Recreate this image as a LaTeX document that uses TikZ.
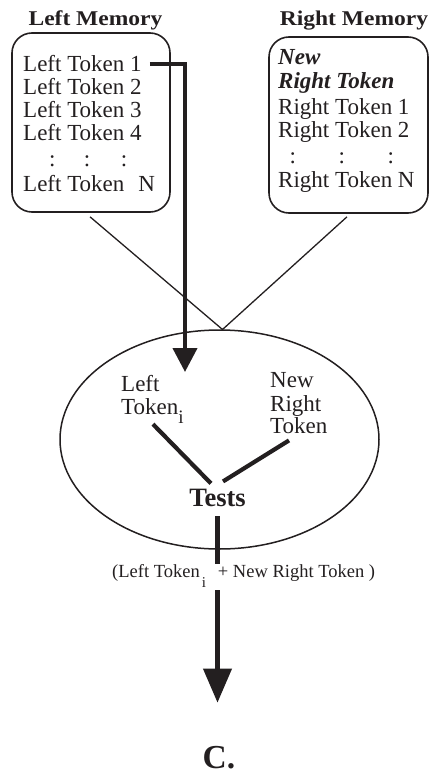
\documentclass[tikz,border=0pt]{standalone}
\usepackage{fontspec}
\setmainfont{Liberation Serif}
\newfontfamily\titlefont{Liberation Serif}[FakeStretch=1.12]
\usetikzlibrary{arrows.meta,shapes.geometric,calc}
\definecolor{ink}{HTML}{231F20}

\begin{document}
\begin{tikzpicture}[x=1pt,y=-1pt,color=ink,
  every node/.style={inner sep=0pt},
  txt/.style={anchor=base west, font=\fontsize{23}{24}\selectfont},
  bitxt/.style={txt, font=\fontsize{23}{24}\selectfont\bfseries\itshape},
  title/.style={anchor=base, font=\fontsize{21}{24}\selectfont\titlefont\bfseries},
  membox/.style={draw, line width=1.6pt, rounded corners=20pt},
  thinline/.style={line width=1.3pt},
  thickline/.style={line width=4.2pt},
]
\useasboundingbox (0,0) rectangle (434,775);

% memory boxes
\node[title] (ltitle) at (95.5,25.5) {Left Memory};
\node[title] (rtitle) at (354,25.5) {Right Memory};
\node[membox, minimum width=158pt, minimum height=179pt] (lbox) at (91,122.5) {};
\node[membox, minimum width=159pt, minimum height=176pt] (rbox) at (348.5,125) {};

% left memory contents
\node[txt] (L1) at (23,72)  {Left Token 1};
\node[txt] (L2) at (23,94.5) {Left Token 2};
\node[txt] (L3) at (23,118) {Left Token 3};
\node[txt] (L4) at (23,141) {Left Token 4};
\node[txt] (Ldots) at (48.8,166.5) {:\hspace{28.6pt}:\hspace{30.6pt}:};
\node[txt] (LN) at (23,192) {Left Token\hspace{14pt}N};

% right memory contents
\node[bitxt] (R0a) at (278,65) {New};
\node[bitxt] (R0b) at (278,89) {Right Token};
\node[txt] (R1) at (278,115) {Right Token 1};
\node[txt] (R2) at (278,138) {Right Token 2};
\node[txt] (Rdots) at (289.5,164) {:\hspace{42.6pt}:\hspace{42.6pt}:};
\node[txt] (RN) at (278,188) {Right Token N};

% join node
\node[ellipse, draw, line width=1.5pt, minimum width=319pt, minimum height=219pt] (ell) at (219.5,439.5) {};
\coordinate (apex) at (222.5,329.5);
\draw[thinline] ([xshift=-1pt,yshift=-4pt]lbox.south) -- (apex) -- ([xshift=-1.5pt,yshift=-3pt]rbox.south);

% tokens inside the join node
\node[txt] (lt1) at (121,391) {Left};
\node[txt] (lt2) at (121,414) {Token\raisebox{-9pt}{\fontsize{19}{19}\selectfont i}};
\node[txt] (nr1) at (270,387) {New};
\node[txt] (nr2) at (270,411) {Right};
\node[txt] (nr3) at (270,433) {Token};
\node[anchor=base, font=\fontsize{26.5}{28}\selectfont\bfseries] (tests) at (217.5,506) {Tests};

% fetch arrow from the left memory
\coordinate (tipL) at (185,372);
\draw[thickline, -{Triangle[width=24pt,length=24pt]}] ([xshift=8pt]L1.east) -| (tipL);

% tests combine both tokens
\draw[thickline] ($(lt2.south west)+(32,1)$) -- ($(tests.north)+(-6.5,-5)$);
\draw[thickline] ($(nr3.south west)+(19,7)$) -- ($(tests.north)+(5.5,-7)$);

% result
\node[anchor=base west, font=\fontsize{18.5}{20}\selectfont] (res) at (112,577)
  {(Left Token\hspace{2pt}\raisebox{-10pt}{\fontsize{15}{15}\selectfont i}\hspace{12pt}+ New Right Token )};
\node[anchor=base, font=\fontsize{33.5}{36}\selectfont\bfseries] (C) at (219,768) {C.};
\draw[thickline] ([yshift=-10pt]tests.south) -- (tests.south |- res.north);
\draw[thickline, -{Triangle[width=28pt,length=34pt]}] ($(tests.south |- res.south)+(0,3)$) -- ($(tests.south |- C.north)+(0,-43)$);
\end{tikzpicture}
\end{document}
